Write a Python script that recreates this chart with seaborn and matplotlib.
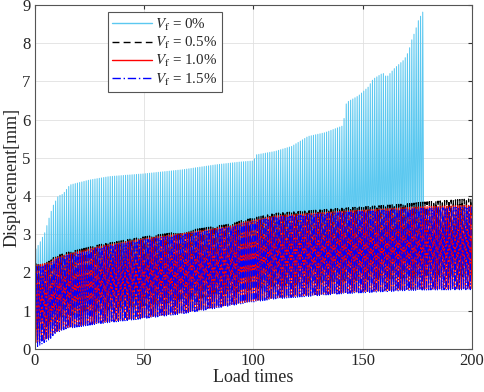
import numpy as np
import pandas as pd
import matplotlib
matplotlib.use("Agg")
import matplotlib.pyplot as plt
import seaborn as sns

# ---- data (envelopes of the cyclic displacement) ----
knot_t0 = [0, 2.3, 4.6, 6.8, 8.3, 10.7, 12.9, 16, 25, 34, 49.5, 67.7, 83, 93.6, 100,
           101.4, 110, 117.5, 125, 132.8, 141, 142.6, 148, 152.5, 154.8, 159.3, 161,
           164.7, 169, 171, 172.5, 174, 175.6, 178]
upper_0 = [2.57, 2.78, 3.05, 3.48, 3.74, 4.0, 4.05, 4.29, 4.42, 4.51, 4.58, 4.69, 4.82,
           4.89, 4.92, 5.08, 5.17, 5.3, 5.56, 5.66, 5.84, 6.45, 6.62, 6.85, 7.06, 7.22,
           7.11, 7.35, 7.57, 7.78, 8.09, 8.31, 8.61, 8.87]

knot_t = [0, 7, 9, 14.5, 29.7, 49.4, 67.7, 90.6, 94.5, 110, 140, 171, 177, 200]
upper_05 = [2.22, 2.30, 2.42, 2.52, 2.73, 2.93, 3.08, 3.28, 3.36, 3.55, 3.68, 3.80, 3.84, 3.93]
upper_10 = [2.18, 2.26, 2.37, 2.47, 2.68, 2.88, 3.02, 3.22, 3.30, 3.48, 3.60, 3.70, 3.72, 3.76]
upper_15 = [2.15, 2.22, 2.33, 2.44, 2.65, 2.85, 2.99, 3.19, 3.27, 3.45, 3.57, 3.66, 3.68, 3.72]
lower_05 = [0.50, 0.62, 0.75, 0.86, 0.99, 1.12, 1.25, 1.47, 1.51, 1.64, 1.77, 1.86, 1.87, 1.88]
lower_10 = [0.15, 0.30, 0.43, 0.56, 0.69, 0.82, 0.95, 1.17, 1.21, 1.34, 1.47, 1.56, 1.57, 1.58]
lower_15 = [0.02, 0.26, 0.40, 0.53, 0.66, 0.79, 0.92, 1.14, 1.18, 1.31, 1.44, 1.53, 1.54, 1.55]

labels = [r"$V_\mathrm{f}$ = 0%", r"$V_\mathrm{f}$ = 0.5%",
          r"$V_\mathrm{f}$ = 1.0%", r"$V_\mathrm{f}$ = 1.5%"]
colors = ["#5bc8f0", "#000000", "#ff0000", "#0000ff"]
styles = ["-", (0, (5, 3)), "-", (0, (6, 2, 1, 2))]


def cycles(t_end, kt, up, lo, phase=0.0):
    n = int(t_end)
    t = np.arange(0, n + 0.001, 0.5) + phase
    t = t[t <= t_end]
    hi = np.interp(t, kt, up)
    lw = np.interp(t, knot_t, lo)
    is_hi = (np.round((t - phase) * 2) % 2) == 1
    y = np.where(is_hi, hi, lw)
    return t, y


frames = []
t, y = cycles(178, knot_t0, upper_0, lower_10)
frames.append(pd.DataFrame({"t": t, "y": y, "s": labels[0]}))
t, y = cycles(200, knot_t, upper_05, lower_05)
frames.append(pd.DataFrame({"t": t, "y": y, "s": labels[1]}))
t, y = cycles(200, knot_t, upper_10, lower_10)
frames.append(pd.DataFrame({"t": t, "y": y, "s": labels[2]}))
t, y = cycles(200, knot_t, upper_15, lower_15, phase=0.25)
frames.append(pd.DataFrame({"t": t, "y": y, "s": labels[3]}))

sns.set_style("whitegrid")
plt.rcParams["font.family"] = ["Liberation Serif", "DejaVu Serif"]
plt.rcParams["mathtext.fontset"] = "stix"

fig = plt.figure(figsize=(4.84, 3.92), dpi=100)
ax = fig.add_axes([0.072, 0.110, 0.903, 0.877])

widths = [0.75, 0.9, 0.9, 0.75]
for df, c, ls, lab, w in zip(frames, colors, styles, labels, widths):
    sns.lineplot(data=df, x="t", y="y", sort=False, estimator=None, ax=ax,
                 color=c, linestyle=ls, linewidth=w, label=lab)

ax.set_xlim(0, 200)
ax.set_ylim(0, 9)
ax.set_xticks([0, 50, 100, 150, 200])
ax.set_yticks(range(0, 10))
ax.set_xlabel("Load times", fontsize=13, labelpad=0)
ax.set_ylabel("Displacement[mm]", fontsize=13, labelpad=1)
ax.tick_params(axis="both", labelsize=12, direction="in", length=3,
               top=True, right=True, color="#333333", pad=3)
ax.grid(True, color="#e0e0e0", linewidth=0.6)
for sp in ax.spines.values():
    sp.set_color("#555555")
    sp.set_linewidth(0.8)

leg = ax.legend(loc="upper left", bbox_to_anchor=(0.167, 0.98), fontsize=10.8,
                frameon=True, fancybox=False, framealpha=1, edgecolor="#555555",
                handlelength=2.65, handletextpad=0.2, borderpad=0.3, labelspacing=0.15,
                borderaxespad=0)
for h in leg.get_lines():
    h.set_linewidth(1.0)
leg.get_frame().set_linewidth(0.8)

fig.savefig("out.png", dpi=100)
